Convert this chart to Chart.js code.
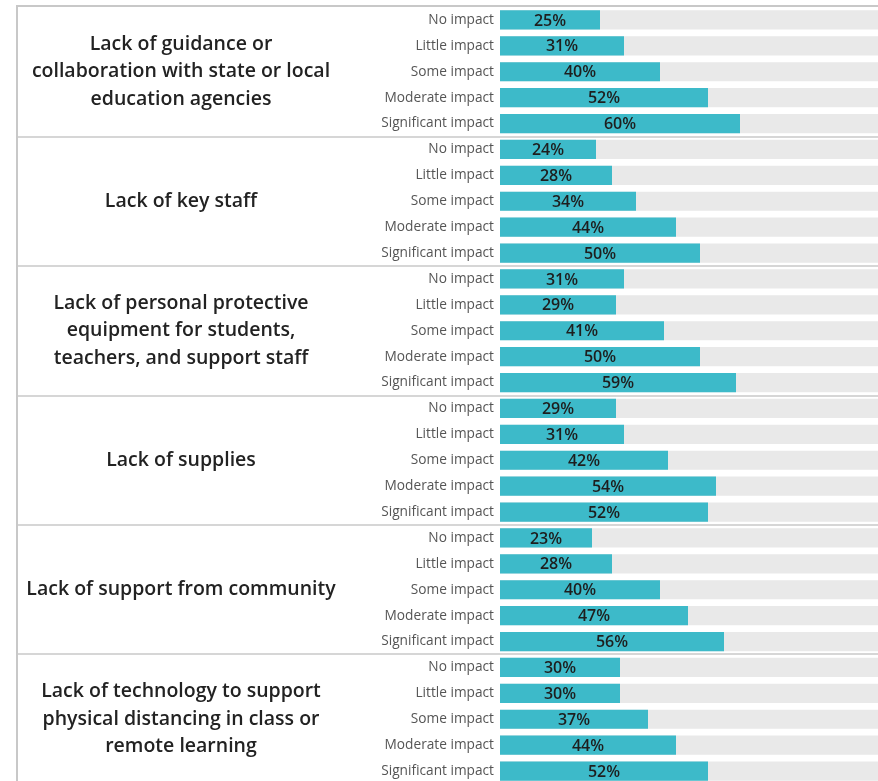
<!DOCTYPE html>
<html>
<head>
<meta charset="utf-8">
<script src="https://cdn.jsdelivr.net/npm/chart.js@4.4.1/dist/chart.umd.min.js"></script>
<style>
  html, body { margin: 0; padding: 0; background: #fff; overflow: hidden; }
  #wrap { position: absolute; left: 0; top: 0; width: 900px; height: 784px; }
</style>
</head>
<body>
<div id="wrap"><canvas id="impactChart"></canvas></div>
<script>
const GROUPS = [
  ["Lack of guidance or", "collaboration with state or local", "education agencies"],
  ["Lack of key staff"],
  ["Lack of personal protective", "equipment for students,", "teachers, and support staff"],
  ["Lack of supplies"],
  ["Lack of support from community"],
  ["Lack of technology to support", "physical distancing in class or", "remote learning"],
];

const LEVELS = ["No impact", "Little impact", "Some impact", "Moderate impact", "Significant impact"];

const guidance = [25, 31, 40, 52, 60];
const keyStaff = [24, 28, 34, 44, 50];
const ppe = [31, 29, 41, 50, 59];
const supplies = [29, 31, 42, 54, 52];
const community = [23, 28, 40, 47, 56];
const technology = [30, 30, 37, 44, 52];

const X_MAX = 100;

const labels = GROUPS.flatMap(() => LEVELS);
const values = [guidance, keyStaff, ppe, supplies, community, technology].flat();
const track = values.map(() => X_MAX);

const FONT = "'Open Sans', 'Noto Sans', sans-serif";

// group titles, separators, frame and the % text inside bars
const decorations = {
  id: "decorations",
  beforeDatasetsDraw(chart) {
    const { ctx, scales } = chart;
    const y = scales.y;
    const step = y.getPixelForValue(1) - y.getPixelForValue(0);
    ctx.save();
    ctx.strokeStyle = "#d6d6d6";
    ctx.lineWidth = 2;
    for (let g = 1; g < GROUPS.length; g += 1) {
      const yy = Math.round(y.getPixelForValue(g * LEVELS.length) - step / 2);
      ctx.beginPath();
      ctx.moveTo(17, yy);
      ctx.lineTo(chart.width, yy);
      ctx.stroke();
    }
    ctx.strokeStyle = "#c8c8c8";
    ctx.beginPath();
    ctx.moveTo(17, 6);
    ctx.lineTo(chart.width, 6);
    ctx.moveTo(17, 5);
    ctx.lineTo(17, chart.height);
    ctx.stroke();

    ctx.fillStyle = "#222";
    ctx.font = `600 19.5px ${FONT}`;
    ctx.textAlign = "center";
    ctx.textBaseline = "middle";
    const lineH = 27.5;
    GROUPS.forEach((lines, g) => {
      const top = y.getPixelForValue(g * LEVELS.length) - step / 2;
      const mid = top + (step * LEVELS.length) / 2;
      lines.forEach((line, i) => {
        ctx.fillText(line, 181, mid + (i - (lines.length - 1) / 2) * lineH);
      });
    });
    ctx.restore();
  },
  afterDatasetsDraw(chart) {
    const { ctx } = chart;
    const meta = chart.getDatasetMeta(1);
    ctx.save();
    ctx.fillStyle = "#1e1e1e";
    ctx.font = `600 16px ${FONT}`;
    ctx.textAlign = "center";
    ctx.textBaseline = "middle";
    meta.data.forEach((bar, i) => {
      ctx.fillText(`${values[i]}%`, (bar.base + bar.x) / 2, bar.y + 1);
    });
    ctx.restore();
  },
};

new Chart(document.getElementById("impactChart"), {
  type: "bar",
  data: {
    labels,
    datasets: [
      {
        data: track,
        backgroundColor: "#e9e9e9",
        grouped: false,
        order: 2,
        categoryPercentage: 1,
        barPercentage: 0.74,
      },
      {
        data: values,
        backgroundColor: "#3dbac9",
        grouped: false,
        order: 1,
        categoryPercentage: 1,
        barPercentage: 0.74,
      },
    ],
  },
  options: {
    indexAxis: "y",
    responsive: true,
    maintainAspectRatio: false,
    animation: false,
    layout: { padding: { top: 7, right: 0, bottom: 0, left: 0 } },
    plugins: {
      legend: { display: false },
      tooltip: { enabled: false },
    },
    scales: {
      x: {
        min: 0,
        max: X_MAX,
        display: false,
      },
      y: {
        grid: { display: false, drawTicks: false },
        border: { display: false },
        afterFit: (scale) => {
          scale.width = 500;
          scale.paddingTop = 0;
          scale.paddingBottom = 0;
        },
        ticks: {
          autoSkip: false,
          padding: 6,
          color: "#555",
          font: { family: FONT, size: 13.7 },
        },
      },
    },
  },
  plugins: [decorations],
});
</script>
</body>
</html>
